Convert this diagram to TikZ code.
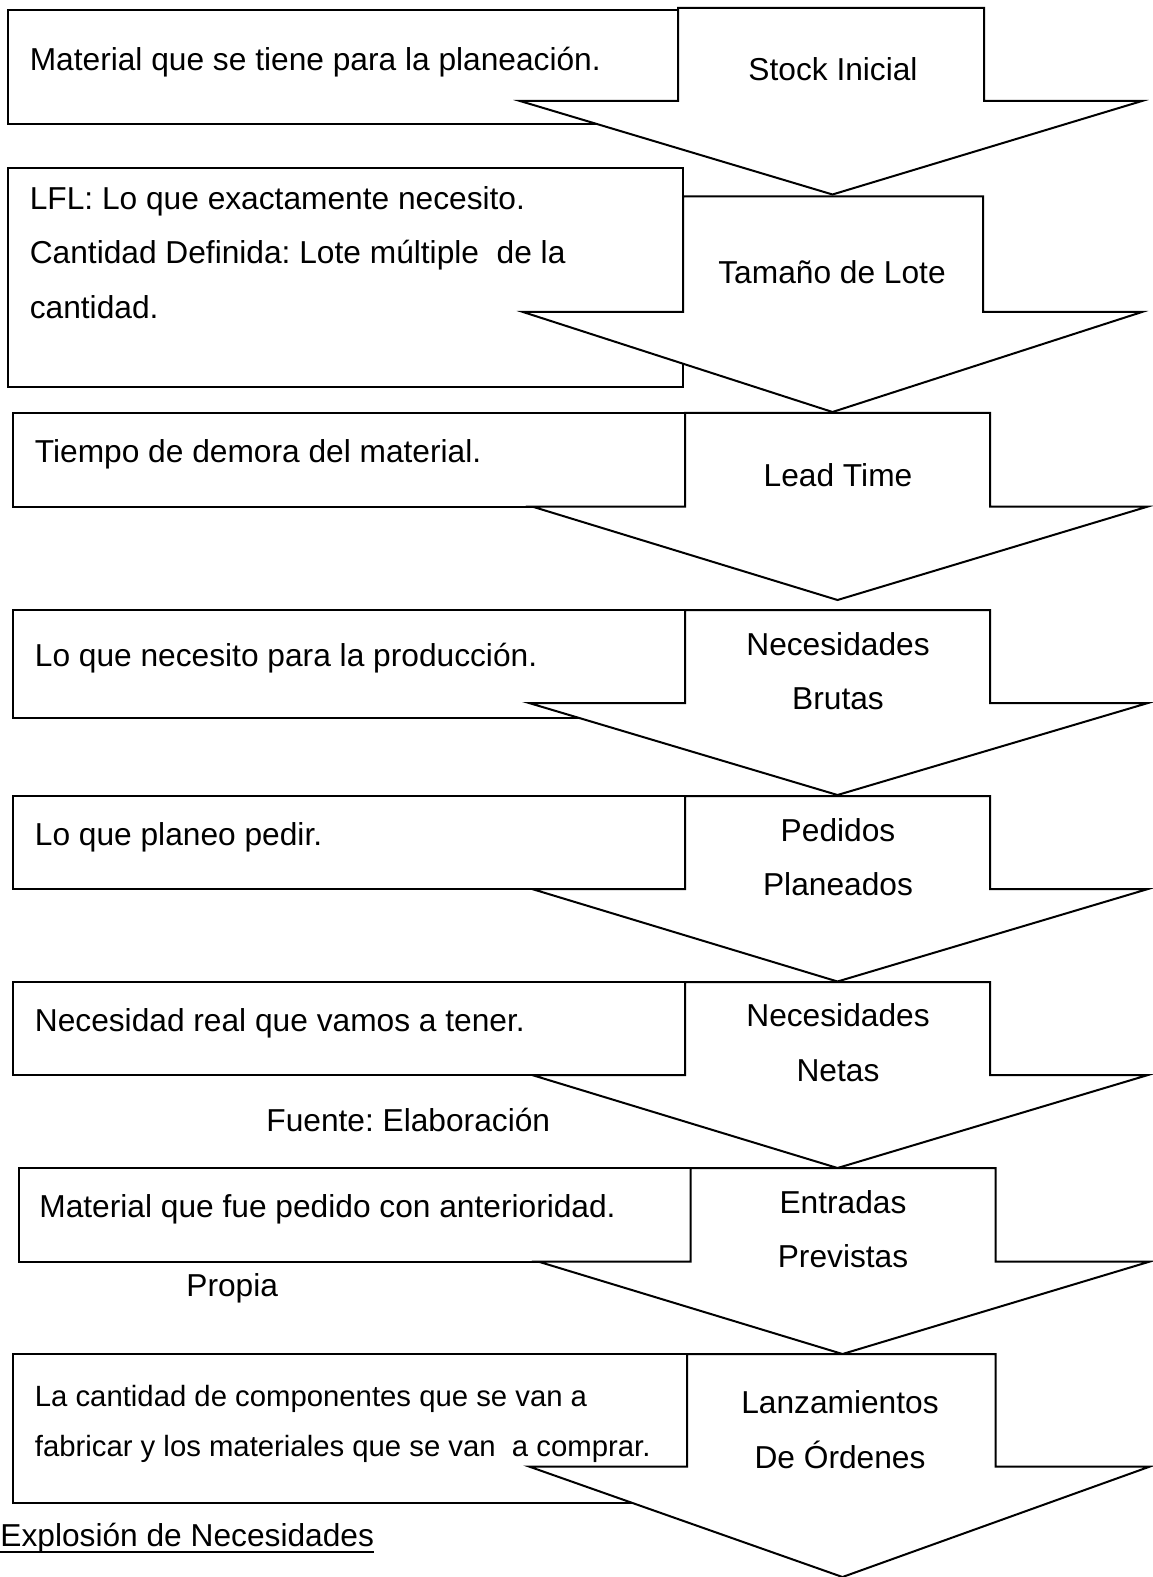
\documentclass[tikz,border=0pt]{standalone}
\usepackage{fontspec}
\setmainfont{Liberation Sans}
\usetikzlibrary{calc}
\frenchspacing
% Down-pointing block arrow:
% #1 body left, #2 body right, #3 top, #4 shoulder, #5 head left, #6 head right, #7 tip x, #8 tip y
\newcommand\flecha[8]{%
  \draw[box] (#1,#3) -- (#2,#3) -- (#2,#4) -- (#6,#4) -- (#7,#8) -- (#5,#4) -- (#1,#4) -- cycle;}
\begin{document}
\begin{tikzpicture}[x=0.5pt,y=-0.5pt,
  box/.style={draw=black,line width=1pt,fill=white,line join=miter},
  txt/.style={inner sep=0pt,anchor=base west,font=\fontsize{15.85}{19}\selectfont},
  small/.style={txt,font=\fontsize{14.65}{18}\selectfont},
  lbl/.style={inner sep=0pt,anchor=base,font=\fontsize{15.85}{19}\selectfont}]
\useasboundingbox (0,0) rectangle (1152,1577);

% 1
\draw[box] (8,10) rectangle (678,124);
\flecha{678}{984}{8}{101}{520}{1142}{832.5}{194.5}
\node[txt] (d1) at (29.4,70.5) {Material que se tiene para la planeación.};
\node[lbl] (t1) at (833,80.7) {Stock Inicial};

% 2
\draw[box] (8,168) rectangle (683,387);
\flecha{683}{983}{196.5}{312}{523}{1142}{832.5}{412}
\node[txt] (d2a) at (29.4,209.3) {LFL: Lo que exactamente necesito.};
\node[txt] (d2b) at (29.4,264) {Cantidad Definida: Lote múltiple\ \ de la};
\node[txt] (d2c) at (29.4,318.3) {cantidad.};
\node[lbl] (t2) at (832,283.3) {Tamaño de Lote};

% 3
\draw[box] (12.5,413) rectangle (685,506.5);
\flecha{685}{990}{413}{506.5}{532}{1148}{837.5}{600}
\node[txt] (d3) at (34.5,462.7) {Tiempo de demora del material.};
\node[lbl] (t3) at (838,486) {Lead Time};

% 4
\draw[box] (12.5,610) rectangle (685,718);
\flecha{685}{990}{610}{703}{529}{1148}{837.5}{795}
\node[txt] (d4) at (34.5,666) {Lo que necesito para la producción.};
\node[lbl] (t4a) at (838,655) {Necesidades};
\node[lbl] (t4b) at (838,709.3) {Brutas};

% 5
\draw[box] (12.5,796) rectangle (685,889);
\flecha{685}{990}{796}{889}{532}{1148}{837.5}{981.5}
\node[txt] (d5) at (34.5,845) {Lo que planeo pedir.};
\node[lbl] (t5a) at (838,841) {Pedidos};
\node[lbl] (t5b) at (838,895) {Planeados};

% 6
\draw[box] (12.5,982) rectangle (685,1075);
\flecha{685}{990}{982}{1075}{532}{1148}{837.5}{1168}
\node[txt] (d6) at (34.5,1031.7) {Necesidad real que vamos a tener.};
\node[lbl] (t6a) at (838,1026.7) {Necesidades};
\node[lbl] (t6b) at (838,1081.7) {Netas};
\node[txt] (f1) at (266,1131.7) {Fuente: Elaboración};

% 7
\draw[box] (18.5,1168) rectangle (690.5,1261.5);
\flecha{690.5}{995.5}{1168}{1261.5}{538}{1150}{842.5}{1354}
\node[txt] (d7) at (39,1217.3) {Material que fue pedido con anterioridad.};
\node[lbl] (t7a) at (843,1213.3) {Entradas};
\node[lbl] (t7b) at (843,1267.7) {Previstas};
\node[txt] (f2) at (186,1296.7) {Propia};

% 8
\draw[box] (12.5,1354) rectangle (687,1503);
\flecha{687}{995.5}{1354}{1466.5}{529}{1150}{842.5}{1577}
\node[small] (d8a) at (34.5,1406.7) {La cantidad de componentes que se van a};
\node[small] (d8b) at (34.5,1456.7) {fabricar y los materiales que se van\ \ a comprar.};
\node[lbl] (t8a) at (840,1413.3) {Lanzamientos};
\node[lbl] (t8b) at (840,1468.3) {De Órdenes};

% caption, underlined
\node[txt] (cap) at (0,1546.7) {Explosión de Necesidades};
\draw[line width=1pt] ($(cap.base west)+(0,5)$) -- ($(cap.base east)+(0,5)$);
\end{tikzpicture}
\end{document}
